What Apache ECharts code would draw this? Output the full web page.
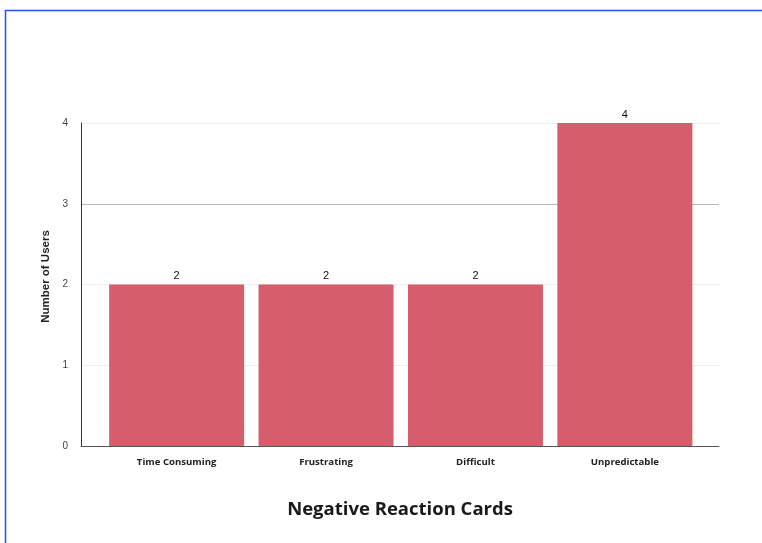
<!DOCTYPE html>
<html>
<head>
<meta charset="utf-8">
<script src="https://cdn.jsdelivr.net/npm/echarts@6/dist/echarts.min.js"></script>
<style>
  html, body { margin: 0; padding: 0; background: #ffffff; }
  #chart { width: 762px; height: 543px; }
</style>
</head>
<body>
<div id="chart"></div>
<script>
// Reaction card categories and how many users picked each
const categories = ['Time Consuming', 'Frustrating', 'Difficult', 'Unpredictable'];
const userCounts = [2, 2, 2, 4];
const yTicks = [0, 1, 2, 3, 4];

const chart = echarts.init(document.getElementById('chart'));

const barData = categories.map((c, i) => [i, userCounts[i]]);

chart.setOption({
  animation: false,
  backgroundColor: '#ffffff',
  graphic: [{
    type: 'rect',
    shape: { x: 5.5, y: 10.5, width: 800, height: 600 },
    style: { fill: 'none', stroke: '#1f50ff', lineWidth: 1.5 },
    silent: true
  }],
  grid: { left: 81, right: 43, top: 123, bottom: 97 },
  xAxis: {
    type: 'value',
    min: -0.64,
    max: 3.63,
    name: 'Negative Reaction Cards',
    nameLocation: 'middle',
    nameGap: 54,
    nameTextStyle: { fontFamily: 'Open Sans', fontWeight: 'bold', fontSize: 18.5, color: '#1a1a1a' },
    axisLine: { show: true, lineStyle: { color: '#555', width: 1 } },
    axisTick: { show: false },
    splitLine: { show: false },
    axisLabel: {
      customValues: categories.map((c, i) => i),
      formatter: v => categories[Math.round(v)],
      margin: 11,
      fontFamily: 'Open Sans',
      fontWeight: 'bold',
      fontSize: 9.6,
      color: '#222'
    }
  },
  yAxis: {
    type: 'value',
    min: yTicks[0],
    max: yTicks[yTicks.length - 1],
    interval: 1,
    name: 'Number of Users',
    nameLocation: 'middle',
    nameGap: 22,
    nameRotate: 90,
    nameTextStyle: { fontFamily: 'Liberation Sans', fontWeight: 'bold', fontSize: 11.5, color: '#222', padding: [0, 0, 0, 16] },
    axisLine: { show: true, onZero: false, lineStyle: { color: '#333', width: 1 } },
    axisTick: { show: false },
    axisLabel: { margin: 13, fontFamily: 'Liberation Sans', fontSize: 10, color: '#444' },
    splitLine: { show: true, lineStyle: { color: ['#eeeeee', '#eeeeee', '#eeeeee', '#b8b8b8', '#eeeeee'], width: 1 } }
  },
  series: [{
    type: 'bar',
    data: barData,
    barWidth: 135,
    itemStyle: { color: '#d65d6c' },
    label: {
      show: true,
      position: 'top',
      distance: 3,
      formatter: p => p.value[1],
      fontFamily: 'Liberation Sans',
      fontSize: 11,
      color: '#111'
    }
  }]
});
</script>
</body>
</html>
